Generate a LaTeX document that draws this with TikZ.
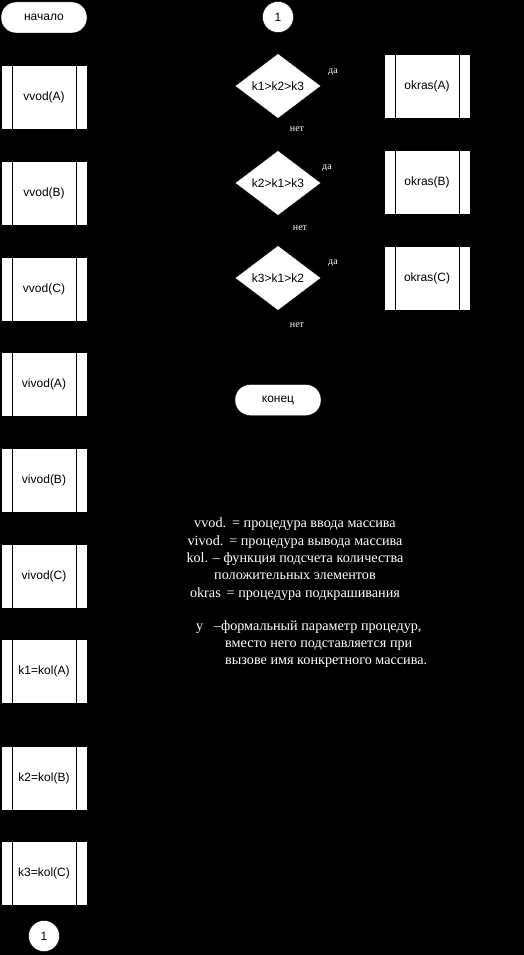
\documentclass[tikz,border=0pt]{standalone}
\usepackage{fontspec}
\setmainfont{Liberation Sans}
\newfontfamily\notefont{Liberation Serif}
\usetikzlibrary{shapes.geometric,arrows.meta}
\definecolor{myline}{rgb}{0,0,0}
\definecolor{mynote}{rgb}{1,1,1}

\begin{document}
\begin{tikzpicture}[x=1pt,y=-1pt,
  pproc/.style={draw=myline,fill=white,minimum width=86pt,minimum height=64pt,
    inner sep=0pt,font=\fontsize{12}{14}\selectfont,
    path picture={
      \draw[myline] ([xshift=11pt]path picture bounding box.north west) -- ([xshift=11pt]path picture bounding box.south west);
      \draw[myline] ([xshift=-11pt]path picture bounding box.north east) -- ([xshift=-11pt]path picture bounding box.south east);}},
  term/.style={draw=myline,fill=white,rounded corners=15pt,minimum width=86pt,
    minimum height=31pt,inner sep=0pt,font=\fontsize{12}{14}\selectfont},
  cond/.style={diamond,draw=myline,fill=white,minimum width=86pt,minimum height=65pt,
    aspect=1.32,inner sep=0pt,font=\fontsize{12}{14}\selectfont},
  conn/.style={circle,draw=myline,fill=white,minimum size=31pt,inner sep=0pt,
    font=\fontsize{12}{14}\selectfont},
  flow/.style={draw=myline,line width=.8pt,-{Stealth[length=6pt]}},
  ans/.style={font=\notefont\fontsize{10}{11}\selectfont,text=mynote,inner sep=0pt},
  note/.style={font=\notefont\fontsize{14.2}{17.3}\selectfont,text=mynote,inner sep=0pt}]

  \fill[black] (0,0) rectangle (524,955);
  \useasboundingbox (0,0) rectangle (524,955);

  % left column
  \node[term] (start) at (44,17.5) {начало};
  \foreach \nm/\ny/\tl in {inA/97/vvod(A),inB/193.5/vvod(B),inC/289/vvod(C),
      outA/384.5/vivod(A),outB/480.5/vivod(B),outC/576/vivod(C),
      kA/671.5/k1=kol(A),kB/778/k2=kol(B),kC/873.5/k3=kol(C)}
    \node[pproc] (\nm) at (44,\ny) {\tl};
  \node[conn] (linkB) at (44,936) {1};
  \foreach \a/\b in {start/inA,inA/inB,inB/inC,inC/outA,outA/outB,outB/outC,
      outC/kA,kA/kB,kB/kC,kC/linkB}
    \draw[flow] (\a) -- (\b);

  % right column
  \node[conn] (linkT) at (278,17) {1};
  \node[cond] (cA) at (278,86) {k1>k2>k3};
  \node[cond] (cB) at (278,183) {k2>k1>k3};
  \node[cond] (cC) at (278,278) {k3>k1>k2};
  \node[pproc] (okA) at (427,86) {okras(A)};
  \node[pproc] (okB) at (427,182.5) {okras(B)};
  \node[pproc] (okC) at (427,278.5) {okras(C)};
  \node[term] (stop) at (278,400) {конец};
  \coordinate (merge) at (278,362);
  \coordinate (railA) at (515,86);
  \coordinate (railB) at (515,183);
  \coordinate (railC) at (515,278);
  \coordinate (railD) at (515,362);

  \draw[flow] (linkT) -- (cA);
  \draw[flow] (cA) -- (cB);
  \draw[flow] (cB) -- (cC);
  \draw[flow] (cC) -- (stop);
  \draw[flow] (cA) -- (okA);
  \draw[flow] (cB) -- (okB);
  \draw[flow] (cC) -- (okC);
  \draw[myline,line width=.8pt] (okA) -- (railA) -- (railD);
  \draw[myline,line width=.8pt] (okB) -- (railB);
  \draw[myline,line width=.8pt] (okC) -- (railC);
  \draw[flow] (railD) -- (merge);

  \node[ans] (yesA) at (333,72) {да};
  \node[ans] (yesB) at (327,168) {да};
  \node[ans] (yesC) at (333,263) {да};
  \node[ans] (noA) at (297,129) {нет};
  \node[ans] (noB) at (300,228) {нет};
  \node[ans] (noC) at (297,325) {нет};

  % notes
  \node[note,align=center] (legend) at (295,559)
    {vvod.\ \,= процедура ввода массива\\
     vivod.\ \,= процедура вывода массива\\
     kol. – функция подсчета количества\\
     положительных элементов\\
     okras\ \,= процедура подкрашивания};
  \node[note,align=left,anchor=north west] (param) at (196,620)
    {у\ \ \ –формальный параметр процедур,\\
     \hspace*{29pt}вместо него подставляется при\\
     \hspace*{29pt}вызове имя конкретного массива.};
\end{tikzpicture}
\end{document}
